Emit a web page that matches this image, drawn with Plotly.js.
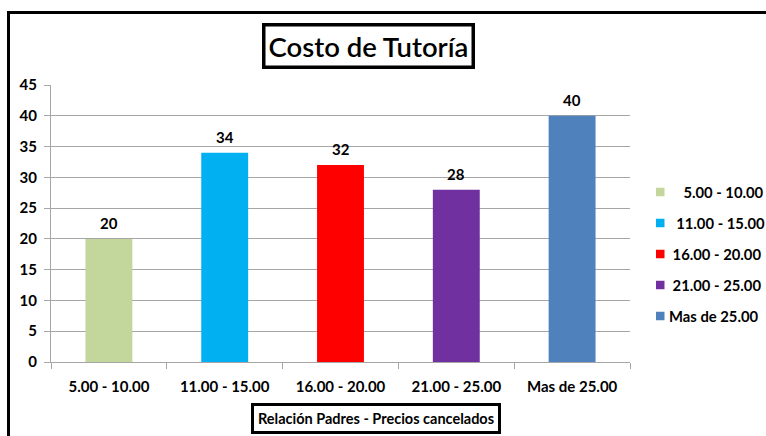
<!DOCTYPE html>
<html><head><meta charset="utf-8">
<script src="https://cdn.plot.ly/plotly-3.0.1.min.js"></script>
<style>
html,body{margin:0;padding:0;width:766px;height:436px;overflow:hidden;background:#fff;}
#frame{position:absolute;left:7px;top:11px;width:820px;height:500px;border:3.5px solid #000;}
#chart{position:absolute;left:0;top:0;width:766px;height:436px;}
</style></head>
<body>
<div id="frame"></div>
<div id="chart"></div>
<script>
const categories = ["5.00 - 10.00", "11.00 - 15.00", "16.00 - 20.00", "21.00 - 25.00", "Mas de 25.00"];
const legendNames = ["\u00A0\u00A0\u00A0\u00A05.00 - 10.00", "\u00A0\u00A011.00 - 15.00", "\u00A016.00 - 20.00", "\u00A021.00 - 25.00", "Mas de 25.00"];
const values = [20, 34, 32, 28, 40];
const colors = ["#C3D69B", "#00B0F0", "#FF0000", "#7030A0", "#4F81BD"];
const yTicks = [0, 5, 10, 15, 20, 25, 30, 35, 40, 45];
const chartTitle = "Costo de Tutoría";
const xTitle = "Relación Padres - Precios cancelados";

const FONT = "Lato, 'Open Sans', sans-serif";

// plot-area geometry (pixels)
const L = 51, R = 630, T = 85, B = 362;
const px2x = p => (p - L) / (R - L);
const px2y = p => (B - p) / (B - T);

const traces = categories.map((c, i) => ({
  type: 'bar', x: [c], y: [values[i]], name: categories[i],
  marker: {color: colors[i]}, width: 0.405,
  hoverinfo: 'none', showlegend: false
}));

const annotations = categories.map((c, i) => ({
  x: c, y: values[i], xref: 'x', yref: 'y', text: String(values[i]),
  showarrow: false, yshift: 16, font: {family: FONT, size: 15, color: '#000', weight: 700}
}));
annotations.push({
  xref: 'paper', yref: 'paper', x: px2x(368), y: px2y(46), xanchor: 'center', yanchor: 'middle',
  text: chartTitle,
  showarrow: false, font: {family: FONT, size: 27.5, color: '#000', weight: 600},
  bordercolor: '#000', borderwidth: 3.5, borderpad: 3, bgcolor: '#fff'
});
annotations.push({
  xref: 'paper', yref: 'paper', x: px2x(375.5), y: px2y(418), xanchor: 'center', yanchor: 'middle',
  text: xTitle,
  showarrow: false, font: {family: FONT, size: 14.5, color: '#000', weight: 700},
  bordercolor: '#000', borderwidth: 3, borderpad: 4, bgcolor: '#fff'
});

// manual legend
const shapes = [];
const legTop = 192, legStep = 31, sq = 8.5, sqX = 656;
legendNames.forEach((n, i) => {
  const cy = legTop + i * legStep;
  shapes.push({type: 'rect', xref: 'paper', yref: 'paper',
    x0: px2x(sqX), x1: px2x(sqX + sq), y0: px2y(cy + sq / 2), y1: px2y(cy - sq / 2),
    fillcolor: colors[i], line: {width: 0}});
  annotations.push({xref: 'paper', yref: 'paper', x: px2x(sqX + sq + 2), y: px2y(cy),
    xanchor: 'left', yanchor: 'middle', text: n, showarrow: false,
    font: {family: FONT, size: 14.8, color: '#000', weight: 700}});
});

const layout = {
  width: 766, height: 436,
  margin: {l: L, r: 766 - R, t: T, b: 436 - B},
  paper_bgcolor: 'rgba(0,0,0,0)', plot_bgcolor: 'rgba(0,0,0,0)',
  barmode: 'overlay',
  showlegend: false,
  xaxis: {type: 'category', categoryarray: categories, showgrid: false,
    showline: true, linecolor: '#A6A6A6', linewidth: 1,
    ticks: 'outside', ticklen: 6, tickcolor: '#A6A6A6', tickson: 'boundaries',
    ticklabelstandoff: 11,
    tickfont: {family: FONT, size: 15, color: '#000', weight: 700}, fixedrange: true},
  yaxis: {range: [0, 45], tickvals: yTicks, ticktext: yTicks.map(String),
    showgrid: true, gridcolor: '#A6A6A6', gridwidth: 1,
    showline: true, linecolor: '#A6A6A6', linewidth: 1,
    ticks: 'outside', ticklen: 6, tickcolor: '#A6A6A6', ticklabelstandoff: 4,
    zeroline: false,
    tickfont: {family: FONT, size: 15, color: '#000', weight: 700}, fixedrange: true},
  annotations: annotations,
  shapes: shapes
};
Plotly.newPlot('chart', traces, layout, {displayModeBar: false, staticPlot: true});
</script>
</body></html>
